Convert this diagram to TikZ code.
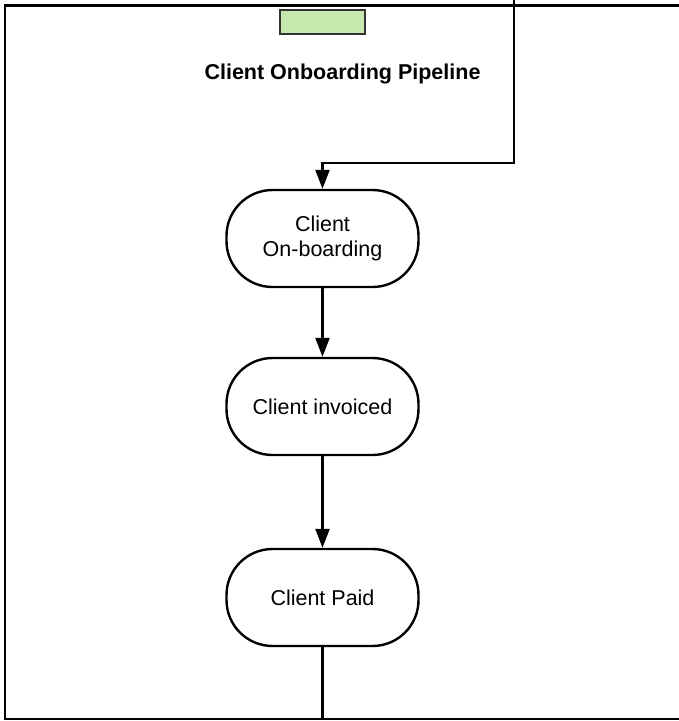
\documentclass[tikz,border=0pt]{standalone}
\usepackage{fontspec}
\setmainfont{Liberation Sans}
\usetikzlibrary{arrows.meta}
\definecolor{tagfill}{HTML}{C6E7AD}
\tikzset{
  stage/.style={draw, line width=2.4pt, rounded corners=46pt, minimum width=192pt, minimum height=97pt, align=center, inner sep=0pt, font=\fontsize{21.5}{25.5}\selectfont},
  conn/.style={line width=2.4pt, -{Triangle[length=19pt,width=14pt]}},
  plain/.style={line width=2.4pt},
}
\begin{document}
\begin{tikzpicture}[x=1pt,y=-1pt]
\useasboundingbox (0,0) rectangle (679,721);
\clip (0,0) rectangle (679,721);
\draw[line width=2.4pt] (4.7,5.3) rectangle (700,719);
\node[draw=black!80, line width=1.6pt, fill=tagfill, minimum width=85pt, minimum height=24pt, inner sep=0pt] (tag) at (322.5,22) {};
\node[font=\bfseries\fontsize{21.5}{25}\selectfont] (title) at (342.5,74) {Client Onboarding Pipeline};
\node[stage] (n1) at (322.5,238.5) {Client\\On-boarding};
\node[stage] (n2) at (322.5,406.5) {Client invoiced};
\node[stage] (n3) at (322.5,597.5) {Client Paid};
\coordinate (top) at (514,-5);
\coordinate (bot) at (322.5,719);
\draw[conn] (top) -- (514,163) -| (n1.north);
\draw[conn] (n1) -- (n2);
\draw[conn] (n2) -- (n3);
\draw[plain] (n3) -- (bot);
\end{tikzpicture}
\end{document}
